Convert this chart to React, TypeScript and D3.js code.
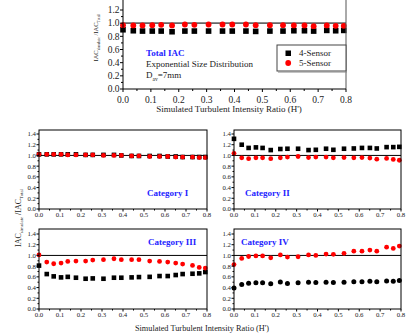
import React from "react";
import * as d3 from "d3";

const hRatio = [0, 0.037, 0.07, 0.105, 0.137, 0.176, 0.222, 0.256, 0.307, 0.357, 0.392, 0.441, 0.476, 0.527, 0.574, 0.613, 0.651, 0.684, 0.731, 0.763, 0.792];

const total4 = [0.9, 0.885, 0.88, 0.88, 0.88, 0.87, 0.88, 0.88, 0.88, 0.88, 0.88, 0.88, 0.875, 0.88, 0.88, 0.885, 0.885, 0.88, 0.89, 0.885, 0.89];
const total5 = [0.97, 0.965, 0.965, 0.97, 0.975, 0.965, 0.98, 0.975, 0.98, 0.98, 0.98, 0.98, 0.97, 0.97, 0.97, 0.965, 0.965, 0.955, 0.965, 0.96, 0.96];

const cat1_4 = [1.02, 1.02, 1.02, 1.02, 1.02, 1.02, 1.01, 1.01, 1.01, 1.01, 1.0, 0.99, 0.99, 0.99, 0.99, 0.98, 0.98, 0.97, 0.97, 0.97, 0.97];
const cat1_5 = [1.02, 1.02, 1.02, 1.02, 1.01, 1.01, 1.01, 1.01, 1.0, 1.0, 1.0, 0.99, 0.99, 0.98, 0.98, 0.98, 0.97, 0.97, 0.97, 0.96, 0.96];

const cat2_4 = [1.31, 1.2, 1.14, 1.15, 1.14, 1.1, 1.12, 1.125, 1.125, 1.1, 1.105, 1.125, 1.105, 1.125, 1.13, 1.14, 1.14, 1.13, 1.155, 1.155, 1.16];
const cat2_5 = [1.04, 0.955, 0.94, 0.955, 0.955, 0.94, 0.955, 0.97, 0.98, 0.96, 0.97, 0.97, 0.955, 0.96, 0.955, 0.96, 0.95, 0.93, 0.945, 0.925, 0.91];

const cat3_4 = [0.81, 0.652, 0.609, 0.59, 0.6, 0.584, 0.565, 0.571, 0.565, 0.584, 0.584, 0.59, 0.596, 0.6, 0.615, 0.615, 0.634, 0.652, 0.658, 0.665, 0.69];
const cat3_5 = [1.01, 0.876, 0.845, 0.857, 0.888, 0.894, 0.894, 0.913, 0.92, 0.938, 0.92, 0.92, 0.92, 0.894, 0.888, 0.876, 0.857, 0.838, 0.814, 0.776, 0.764];

const cat4_4 = [0.394, 0.456, 0.48, 0.49, 0.49, 0.47, 0.505, 0.475, 0.49, 0.5, 0.495, 0.5, 0.495, 0.5, 0.51, 0.51, 0.52, 0.51, 0.525, 0.52, 0.53];
const cat4_5 = [0.83, 0.944, 0.98, 0.99, 0.99, 0.955, 1.01, 0.97, 0.975, 1.01, 1.0, 1.025, 1.02, 1.04, 1.08, 1.08, 1.1, 1.08, 1.155, 1.13, 1.175];

const xTicks = [0, 0.1, 0.2, 0.3, 0.4, 0.5, 0.6, 0.7, 0.8];
const xMinor = [0.05, 0.15, 0.25, 0.35, 0.45, 0.55, 0.65, 0.75];
const yTicksTop = [0, 0.2, 0.4, 0.6, 0.8, 1.0, 1.2];
const yMinorTop = [0.1, 0.3, 0.5, 0.7, 0.9, 1.1];
const yTicksPanel = [0, 0.2, 0.4, 0.6, 0.8, 1.0, 1.2, 1.4];
const yMinorPanel = [0.1, 0.3, 0.5, 0.7, 0.9, 1.1, 1.3];

const seriesNames = ["4-Sensor", "5-Sensor"];
const panelTitles = ["Category I", "Category II", "Category III", "Category IV"];

const FONT = "'Liberation Serif', 'Times New Roman', serif";
const RED = "#ff0000";
const BLUE = "#2424ff";

type PanelProps = {
  x0: number; x1: number; y0: number; yTopPx: number;
  s4: number[]; s5: number[]; title: string; titleX: number; titleY: number;
  circles4?: boolean;
};

function Panel({ x0, x1, y0, yTopPx, s4, s5, title, titleX, titleY, circles4 }: PanelProps) {
  const x = d3.scaleLinear().domain([0, 0.8]).range([x0, x1]);
  const y = d3.scaleLinear().domain([0, 1.4]).range([y0, y0 - 75]);
  const fs = 6.8;
  return (
    <g>
      <line x1={x0} x2={x1} y1={y(1)} y2={y(1)} stroke="#000" strokeWidth={1} />
      {s4.map((v, i) =>
        circles4 ? (
          <circle key={"a" + i} cx={x(hRatio[i])} cy={y(v)} r={2.5} fill="#000" />
        ) : (
          <rect key={"a" + i} x={x(hRatio[i]) - 2.3} y={y(v) - 2.3} width={4.6} height={4.6} fill="#000" />
        )
      )}
      {s5.map((v, i) => (
        <circle key={"b" + i} cx={x(hRatio[i])} cy={y(v)} r={2.4} fill={RED} />
      ))}
      <rect x={x0} y={yTopPx} width={x1 - x0} height={y0 - yTopPx} fill="none" stroke="#000" strokeWidth={1} />
      {xTicks.map((t) => (
        <g key={"xt" + t}>
          <line x1={x(t)} x2={x(t)} y1={y0} y2={y0 + 2.5} stroke="#000" />
          <text x={x(t)} y={y0 + 7.5} fontSize={fs} textAnchor="middle" fontFamily={FONT} fill="#222">{t.toFixed(1)}</text>
        </g>
      ))}
      {xMinor.map((t) => (
        <line key={"xm" + t} x1={x(t)} x2={x(t)} y1={y0} y2={y0 + 1.5} stroke="#000" />
      ))}
      {yTicksPanel.map((t) => (
        <g key={"yt" + t}>
          <line x1={x0 - 2.5} x2={x0} y1={y(t)} y2={y(t)} stroke="#000" />
          <text x={x0 - 3} y={y(t) + 2.4} fontSize={fs} textAnchor="end" fontFamily={FONT} fill="#222">{t.toFixed(1)}</text>
        </g>
      ))}
      {yMinorPanel.map((t) => (
        <line key={"ym" + t} x1={x0 - 1.5} x2={x0} y1={y(t)} y2={y(t)} stroke="#000" />
      ))}
      <text x={titleX} y={titleY + 3} fontSize={9} fontWeight="bold" fontFamily={FONT} fill={BLUE}>{title}</text>
    </g>
  );
}

function YLabel({ cx, cy, fs }: { cx: number; cy: number; fs: number }) {
  return (
    <text transform={`translate(${cx},${cy}) rotate(-90)`} textAnchor="middle" fontFamily={FONT} fontSize={fs} fill="#222">
      IAC<tspan fontSize={fs * 0.6} dy={fs * 0.25}>simulate</tspan>
      <tspan dy={-fs * 0.25}> /IAC</tspan>
      <tspan fontSize={fs * 0.6} dy={fs * 0.25}>Total</tspan>
    </text>
  );
}

export default function App() {
  const tx = d3.scaleLinear().domain([0, 0.8]).range([123, 346]);
  const ty = d3.scaleLinear().domain([0, 1.2]).range([89, 10]);
  const fsTop = 9.5;
  return (
    <svg width={406} height={336} style={{ position: "absolute", left: 0, top: 0 }}>
      <rect width={406} height={336} fill="#fff" />
      {/* Top chart */}
      <line x1={123} x2={346} y1={ty(1)} y2={ty(1)} stroke="#666" strokeWidth={1.6} />
      {total4.map((v, i) => (
        <rect key={"t4" + i} x={tx(hRatio[i]) - 2.8} y={ty(v) - 2.8} width={5.6} height={5.6} fill="#000" />
      ))}
      {total5.map((v, i) => (
        <circle key={"t5" + i} cx={tx(hRatio[i])} cy={ty(v)} r={2.9} fill={RED} />
      ))}
      <line x1={123} x2={123} y1={0} y2={89} stroke="#000" />
      <line x1={346} x2={346} y1={0} y2={89} stroke="#555" />
      <line x1={123} x2={346} y1={89} y2={89} stroke="#000" />
      {xTicks.map((t) => (
        <g key={"txt" + t}>
          <line x1={tx(t)} x2={tx(t)} y1={89} y2={92} stroke="#000" />
          <text x={tx(t)} y={103} fontSize={fsTop} textAnchor="middle" fontFamily={FONT} fill="#222">{t.toFixed(1)}</text>
        </g>
      ))}
      {xMinor.map((t) => (
        <line key={"txm" + t} x1={tx(t)} x2={tx(t)} y1={89} y2={91} stroke="#000" />
      ))}
      {yTicksTop.map((t) => (
        <g key={"tyt" + t}>
          <line x1={120} x2={123} y1={ty(t)} y2={ty(t)} stroke="#000" />
          <text x={119.5} y={ty(t) + 3.3} fontSize={fsTop} textAnchor="end" fontFamily={FONT} fill="#222">{t.toFixed(1)}</text>
        </g>
      ))}
      {yMinorTop.map((t) => (
        <line key={"tym" + t} x1={121} x2={123} y1={ty(t)} y2={ty(t)} stroke="#000" />
      ))}
      <text x={229} y={112} fontSize={9} textAnchor="middle" fontFamily={FONT} fill="#222">Simulated Turbulent Intensity Ratio (H')</text>
      <YLabel cx={98} cy={38} fs={6.5} />
      <text x={146} y={56} fontSize={9} fontWeight="bold" fontFamily={FONT} fill={BLUE}>Total IAC</text>
      <text x={146} y={67} fontSize={9} fontFamily={FONT} fill="#222">Exponential Size Distribution</text>
      <text x={146} y={78} fontSize={9} fontFamily={FONT} fill="#222">
        D<tspan fontSize={5.5} dy={2.5}>av</tspan><tspan dy={-2.5}>=7mm</tspan>
      </text>
      {/* Legend */}
      <rect x={277} y={45} width={69} height={26} fill="#fff" stroke="#444" strokeWidth={1} />
      <line x1={278} x2={347} y1={72} y2={72} stroke="#888" />
      <rect x={285.5} y={50.5} width={5.5} height={5.5} fill="#000" />
      <circle cx={288.2} cy={63} r={2.9} fill={RED} />
      <text x={299} y={56.3} fontSize={9} fontFamily={FONT} fill="#222">{seriesNames[0]}</text>
      <text x={299} y={66.3} fontSize={9} fontFamily={FONT} fill="#222">{seriesNames[1]}</text>

      {/* Panels */}
      <Panel x0={39} x1={207} y0={209} yTopPx={130} s4={cat1_4} s5={cat1_5} title={panelTitles[0]} titleX={147} titleY={193} />
      <Panel x0={234} x1={401} y0={209} yTopPx={130} s4={cat2_4} s5={cat2_5} title={panelTitles[1]} titleX={245} titleY={193} />
      <Panel x0={39} x1={207} y0={309} yTopPx={229} s4={cat3_4} s5={cat3_5} title={panelTitles[2]} titleX={148} titleY={242} />
      <Panel x0={234} x1={401} y0={309} yTopPx={229} s4={cat4_4} s5={cat4_5} title={panelTitles[3]} titleX={241} titleY={242} circles4 />
      <YLabel cx={21} cy={218} fs={8} />
      <text x={202} y={331} fontSize={8.3} textAnchor="middle" fontFamily={FONT} fill="#222">Simulated Turbulent Intensity Ratio (H')</text>
    </svg>
  );
}
